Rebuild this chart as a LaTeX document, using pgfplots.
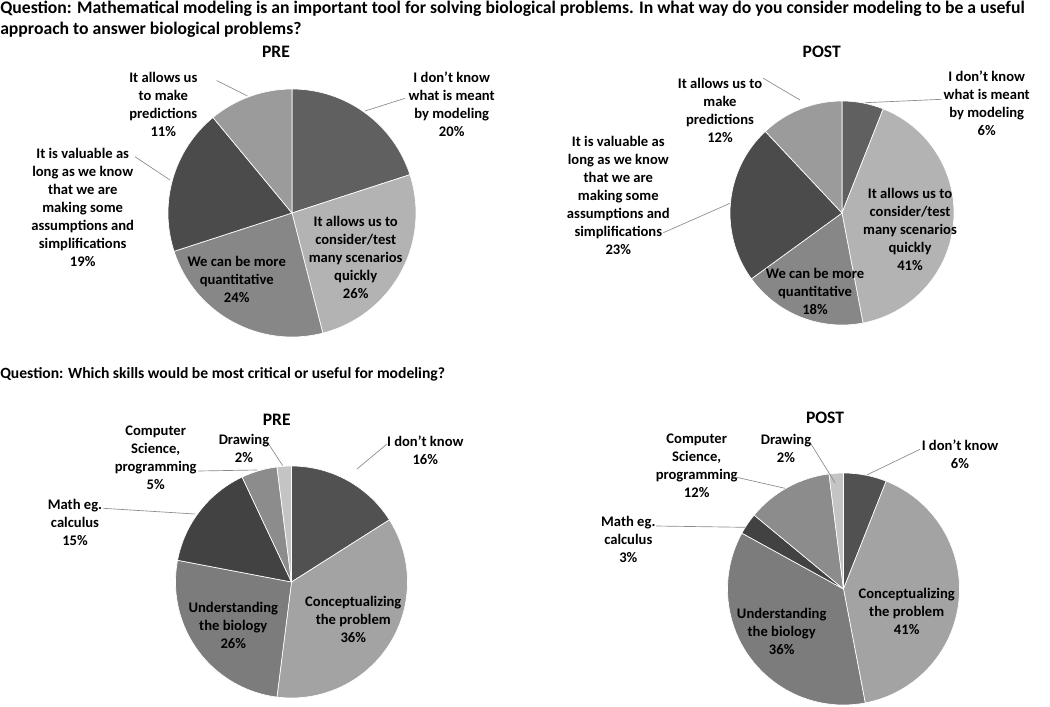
\documentclass[border=0pt]{standalone}
\usepackage{fontspec}
\setmainfont{Carlito}
\usepackage{pgfplots}
\pgfplotsset{compat=1.18}
\definecolor{pa}{HTML}{606060}
\definecolor{pb}{HTML}{B3B3B3}
\definecolor{pc}{HTML}{878787}
\definecolor{pd}{HTML}{4B4B4B}
\definecolor{pe}{HTML}{9B9B9B}
\definecolor{qa}{HTML}{515151}
\definecolor{qb}{HTML}{A3A3A3}
\definecolor{qc}{HTML}{7C7C7C}
\definecolor{qd}{HTML}{424242}
\definecolor{qe}{HTML}{8C8C8C}
\definecolor{qf}{HTML}{C4C4C4}
\definecolor{leader}{HTML}{8A8A8A}
% #1 cx, #2 cy, #3 radius (px), #4 cumulative start (%), #5 share (%), #6 colour
\newcommand{\slice}[6]{%
  \fill[#6, draw=white, line width=0.5pt] (axis cs:#1,#2) -- ++({90-3.6*#4}:{#3*0.75bp})
    arc[start angle={90-3.6*#4}, end angle={90-3.6*(#4+#5)}, radius={#3*0.75bp}] -- cycle;}
\newcommand{\lbl}{\bfseries\fontsize{11}{13.55}\selectfont}
\newcommand{\ttl}{\bfseries\fontsize{13.2}{15}\selectfont}
\begin{document}
\begin{tikzpicture}
\begin{axis}[hide axis, scale only axis, width=787.5bp, height=530.25bp,
  xmin=0, xmax=1050, ymin=0, ymax=707, y dir=reverse, clip=false]
% ---- Pie 1 (PRE, usefulness) ----
\slice{292}{213}{124}{0}{20}{pa}
\slice{292}{213}{124}{20}{26}{pb}
\slice{292}{213}{124}{46}{24}{pc}
\slice{292}{213}{124}{70}{19}{pd}
\slice{292}{213}{124}{89}{11}{pe}
% ---- Pie 2 (POST, usefulness) ----
\slice{842}{213}{112}{0}{6}{pa}
\slice{842}{213}{112}{6}{41}{pb}
\slice{842}{213}{112}{47}{18}{pc}
\slice{842}{213}{112}{65}{23}{pd}
\slice{842}{213}{112}{88}{12}{pe}
% ---- Pie 3 (PRE, skills) ----
\slice{291.5}{582}{116}{0}{16}{qa}
\slice{291.5}{582}{116}{16}{36}{qb}
\slice{291.5}{582}{116}{52}{26}{qc}
\slice{291.5}{582}{116}{78}{15}{qd}
\slice{291.5}{582}{116}{93}{5}{qe}
\slice{291.5}{582}{116}{98}{2}{qf}
% ---- Pie 4 (POST, skills) ----
\slice{843.5}{589}{116}{0}{6}{qa}
\slice{843.5}{589}{116}{6}{41}{qb}
\slice{843.5}{589}{116}{47}{36}{qc}
\slice{843.5}{589}{116}{83}{3}{qd}
\slice{843.5}{589}{116}{86}{12}{qe}
\slice{843.5}{589}{116}{98}{2}{qf}
% ---- leader lines ----
\draw[leader, line width=0.5pt] (axis cs:216.7,80.5) -- (axis cs:247.5,96);
\draw[leader, line width=0.5pt] (axis cs:135,156.7) -- (axis cs:170,180);
\draw[leader, line width=0.5pt] (axis cs:405,98.3) -- (axis cs:365,111);
\draw[leader, line width=0.5pt] (axis cs:763.3,78.3) -- (axis cs:800,100);
\draw[leader, line width=0.5pt] (axis cs:663.3,232.7) -- (axis cs:730,203.3);
\draw[leader, line width=0.5pt] (axis cs:941.7,99.3) -- (axis cs:865,102.7);
\draw[leader, line width=0.5pt] (axis cs:198.3,471) -- (axis cs:257,470);
\draw[leader, line width=0.5pt] (axis cs:103.3,508.3) -- (axis cs:195,514);
\draw[leader, line width=0.5pt] (axis cs:266.7,441) -- (axis cs:282.7,465.7);
\draw[leader, line width=0.5pt] (axis cs:387,444) -- (axis cs:357,469);
\draw[leader, line width=0.5pt] (axis cs:656,526) -- (axis cs:745,527.3);
\draw[leader, line width=0.5pt] (axis cs:736.7,477.3) -- (axis cs:785,488.3);
\draw[leader, line width=0.5pt] (axis cs:810,442.3) -- (axis cs:835,482.7);
\draw[leader, line width=0.5pt] (axis cs:920,449.3) -- (axis cs:866.7,475);
% ---- question texts ----
\node[anchor=west, inner sep=0pt, align=left, font=\bfseries\fontsize{13.3}{15.5}\selectfont] at (axis cs:0,19)
  {Question: Mathematical modeling is an important tool for solving biological problems. In what way do you consider modeling to be a useful\\approach to answer biological problems?};
\node[anchor=west, inner sep=0pt, font=\bfseries\fontsize{11.75}{13}\selectfont] at (axis cs:0,374)
  {Question: Which skills would be most critical or useful for modeling?};
% ---- titles ----
\node[font=\ttl] at (axis cs:276,51.7) {PRE};
\node[font=\ttl] at (axis cs:821.7,51.7) {POST};
\node[font=\ttl] at (axis cs:276.7,420) {PRE};
\node[font=\ttl] at (axis cs:825,418) {POST};
% ---- labels pie 1 ----
\node[font=\lbl, align=center] at (axis cs:163.3,104) {It allows us\\to make\\predictions\\11\%};
\node[font=\lbl, align=center] at (axis cs:82.7,207) {It is valuable as\\long as we know\\that we are\\making some\\assumptions and\\simplifications\\19\%};
\node[font=\lbl, align=center] at (axis cs:451.7,104) {I don’t know\\what is meant\\by modeling\\20\%};
\node[font=\lbl, align=center] at (axis cs:355.7,257.5) {It allows us to\\consider/test\\many scenarios\\quickly\\26\%};
\node[font=\lbl, align=center] at (axis cs:236.7,279.5) {We can be more\\quantitative\\24\%};
% ---- labels pie 2 ----
\node[font=\lbl, align=center] at (axis cs:720,110.3) {It allows us to\\make\\predictions\\12\%};
\node[font=\lbl, align=center] at (axis cs:618.3,195) {It is valuable as\\long as we know\\that we are\\making some\\assumptions and\\simplifications\\23\%};
\node[font=\lbl, align=center] at (axis cs:986.7,103) {I don’t know\\what is meant\\by modeling\\6\%};
\node[font=\lbl, align=center] at (axis cs:910,229) {It allows us to\\consider/test\\many scenarios\\quickly\\41\%};
\node[font=\lbl, align=center] at (axis cs:815,291.7) {We can be more\\quantitative\\18\%};
% ---- labels pie 3 ----
\node[font=\lbl, align=center] at (axis cs:155.7,457.8) {Computer\\Science,\\programming\\5\%};
\node[font=\lbl, align=center] at (axis cs:75,522.5) {Math eg.\\calculus\\15\%};
\node[font=\lbl, align=center] at (axis cs:244,448.3) {Drawing\\2\%};
\node[font=\lbl, align=center] at (axis cs:425.3,449.8) {I don’t know\\16\%};
\node[font=\lbl, align=center] at (axis cs:353.3,619.8) {Conceptualizing\\the problem\\36\%};
\node[font=\lbl, align=center] at (axis cs:233.3,625) {Understanding\\the biology\\26\%};
% ---- labels pie 4 ----
\node[font=\lbl, align=center] at (axis cs:696.7,465.5) {Computer\\Science,\\programming\\12\%};
\node[font=\lbl, align=center] at (axis cs:786,448.3) {Drawing\\2\%};
\node[font=\lbl, align=center] at (axis cs:960,454) {I don’t know\\6\%};
\node[font=\lbl, align=center] at (axis cs:628.3,539.7) {Math eg.\\calculus\\3\%};
\node[font=\lbl, align=center] at (axis cs:906.7,611.3) {Conceptualizing\\the problem\\41\%};
\node[font=\lbl, align=center] at (axis cs:781.7,631) {Understanding\\the biology\\36\%};
\end{axis}
\pgfresetboundingbox
\path (current axis.south west) rectangle (current axis.north east);
\end{tikzpicture}
\end{document}
